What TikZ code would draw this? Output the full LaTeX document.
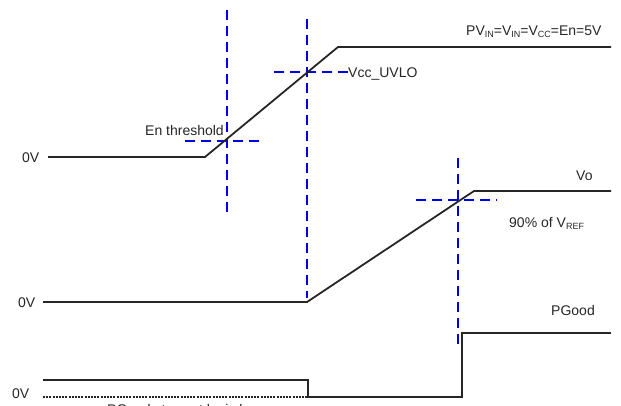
\documentclass[tikz,border=0pt]{standalone}
\usepackage{fontspec}
\setmainfont{Liberation Sans}
\newcommand\sbs[1]{\raisebox{-0.3ex}{\fontsize{9}{9}\selectfont #1}}
\begin{document}
\begin{tikzpicture}[x=1pt,y=-1pt,
  wave/.style={line width=1.8pt,black!85},
  guide/.style={line width=1.6pt,blue!90!black,dash pattern=on 10pt off 6pt},
  lowdots/.style={line width=1.6pt,black!85,dash pattern=on 2pt off 1.2pt},
  lbl/.style={inner sep=0pt,anchor=base west,font=\fontsize{14}{16}\selectfont,text=black!85}]
\useasboundingbox (0,0) rectangle (621,405);
% waveform points
\coordinate (a0) at (48,157);
\coordinate (a1) at (205,157);
\coordinate (a2) at (338,47);
\coordinate (a3) at (611,47);
\coordinate (b0) at (43,302);
\coordinate (b1) at (307,302);
\coordinate (b2) at (474,191);
\coordinate (b3) at (611,191);
\coordinate (c0) at (43,380);
\coordinate (c1) at (308,380);
\coordinate (c2) at (308,397);
\coordinate (c3) at (462,397);
\coordinate (c4) at (462,333);
\coordinate (c5) at (611,333);
\coordinate (d0) at (43,397);
% guide coordinates
\coordinate (g1t) at (227,10);
\coordinate (g1b) at (227,215);
\coordinate (g1l) at (185,141);
\coordinate (g1r) at (265,141);
\coordinate (g2t) at (307,19);
\coordinate (g2b) at (307,298);
\coordinate (g2l) at (268,72);
\coordinate (g2r) at (348,72);
\coordinate (g3t) at (458,158);
\coordinate (g3b) at (458,345);
\coordinate (g3l) at (416,200);
\coordinate (g3r) at (497,200);
% guides
\draw[guide] (g1t) -- (g1b);
\draw[guide] (g1l) -- (g1r);
\draw[guide] (g2t) -- (g2b);
\draw[guide] (g2r) -- (g2l);
\draw[guide] (g3t) -- (g3b);
\draw[guide] (g3l) -- (g3r);
% waveforms
\draw[wave] (a0) -- (a1) -- (a2) -- (a3);
\draw[wave] (b0) -- (b1) -- (b2) -- (b3);
\draw[wave] (c0) -- (c1) -- (c2) -- (c3) -- (c4) -- (c5);
\draw[lowdots] (d0) -- (c2);
% labels
\node[lbl] (z1) at (22,162) {0V};
\node[lbl] (z2) at (18,307) {0V};
\node[lbl] (z3) at (12,398) {0V};
\node[lbl] (en) at (145,135) {En threshold};
\node[lbl] (uvlo) at (348,77) {Vcc\_UVLO};
\node[lbl] (pv) at (466,35) {PV\sbs{IN}=V\sbs{IN}=V\sbs{CC}=En=5V};
\node[lbl] (vo) at (576,180) {Vo};
\node[lbl] (ref) at (509,227) {90\% of V\sbs{REF}};
\node[lbl] (pg) at (551,315) {PGood};
\node[lbl] (low) at (107,414) {PGood stays at logic low};
\end{tikzpicture}
\end{document}
